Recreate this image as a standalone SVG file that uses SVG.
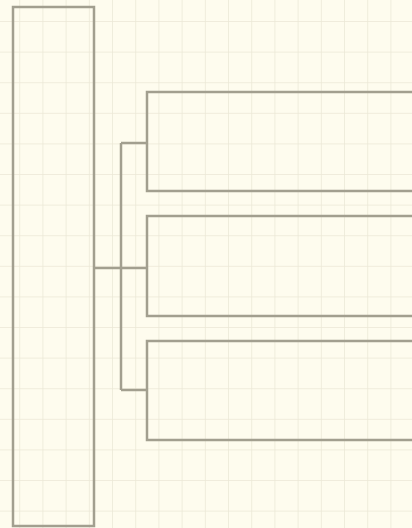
<svg xmlns="http://www.w3.org/2000/svg" width="412" height="528" viewBox="0 0 412 528">
  <style>
    .box { fill: none; stroke: #a29f8f; stroke-width: 2.5; }
    .conn { fill: none; stroke: #a29f8f; stroke-width: 2.5; }
  </style>
  <defs>
    <pattern id="grid" x="-3" y="-8.6" width="23.2" height="30.6" patternUnits="userSpaceOnUse">
      <path d="M 23.2 0 V 30.6 M 0 30.6 H 23.2" fill="none" stroke="#ebe8d6" stroke-width="1.5"/>
    </pattern>
  </defs>
  <rect x="0" y="0" width="412" height="528" fill="#fefcee"/>
  <rect x="0" y="0" width="412" height="528" fill="url(#grid)"/>
  <g id="connectors">
    <path class="conn" d="M 94 268 H 121 M 121 143 V 390 M 121 143 H 147 M 121 268 H 147 M 121 390 H 147"/>
  </g>
  <g id="root">
    <rect class="box" x="13" y="7" width="81" height="519"/>
  </g>
  <g id="child1">
    <rect class="box" x="147" y="92" width="270" height="99"/>
  </g>
  <g id="child2">
    <rect class="box" x="147" y="216" width="270" height="100"/>
  </g>
  <g id="child3">
    <rect class="box" x="147" y="341" width="270" height="99"/>
  </g>
</svg>
